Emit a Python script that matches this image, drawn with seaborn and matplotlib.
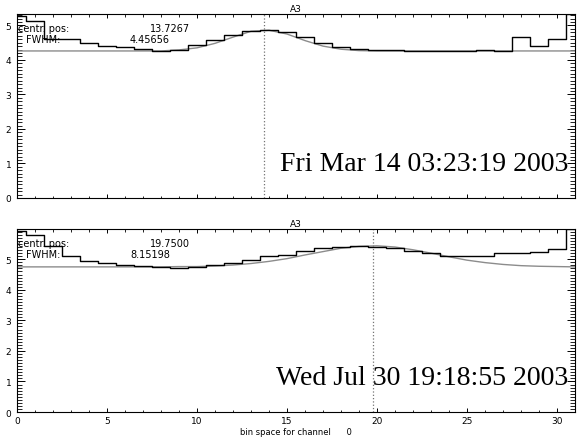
import matplotlib
matplotlib.use('Agg')
import matplotlib.pyplot as plt
import seaborn as sns
from matplotlib.ticker import MultipleLocator

# bin index (channel 0)
bins = list(range(32))

# top panel: counts per bin and the gaussian fit
hist_top = [5.28, 5.13, 4.61, 4.61, 4.50, 4.41, 4.37, 4.32, 4.26, 4.29,
            4.42, 4.57, 4.72, 4.84, 4.87, 4.82, 4.65, 4.48, 4.38, 4.31,
            4.30, 4.30, 4.27, 4.26, 4.26, 4.27, 4.29, 4.26, 4.67, 4.41,
            4.61, 5.33]
fit_top = [4.26, 4.26, 4.26, 4.26, 4.26, 4.26, 4.26, 4.26, 4.26, 4.29,
           4.35, 4.48, 4.66, 4.83, 4.86, 4.75, 4.56, 4.40, 4.31, 4.27,
           4.26, 4.26, 4.26, 4.26, 4.26, 4.26, 4.26, 4.26, 4.26, 4.26,
           4.26, 4.26]
center_top = "13.7267"
fwhm_top = "4.45656"
date_top = "Fri Mar 14 03:23:19 2003"

# bottom panel
hist_bot = [5.93, 5.78, 5.44, 5.12, 4.95, 4.89, 4.82, 4.79, 4.75, 4.72,
            4.75, 4.82, 4.89, 4.99, 5.09, 5.15, 5.28, 5.38, 5.41, 5.44,
            5.41, 5.38, 5.28, 5.19, 5.12, 5.09, 5.09, 5.19, 5.19, 5.24,
            5.34, 5.99]
fit_bot = [4.75, 4.75, 4.75, 4.75, 4.75, 4.75, 4.75, 4.75, 4.75, 4.76,
           4.76, 4.78, 4.81, 4.86, 4.93, 5.02, 5.14, 5.25, 5.36, 5.42,
           5.44, 5.40, 5.31, 5.20, 5.08, 4.97, 4.89, 4.83, 4.79, 4.77,
           4.76, 4.75]
center_bot = "19.7500"
fwhm_bot = "8.15198"
date_bot = "Wed Jul 30 19:18:55 2003"

sns.set_style('ticks')
plt.rcParams['font.family'] = ['DejaVu Sans']
plt.rcParams['xtick.direction'] = 'in'
plt.rcParams['ytick.direction'] = 'in'
plt.rcParams['text.color'] = 'black'
plt.rcParams['axes.labelcolor'] = 'black'
plt.rcParams['xtick.color'] = 'black'
plt.rcParams['ytick.color'] = 'black'


def draw_panel(ax, hist, fit, center, fwhm, date, show_x):
    sns.lineplot(x=bins, y=fit, color='0.55', linewidth=1.0, ax=ax)
    sns.lineplot(x=bins, y=hist, color='black', linewidth=1.0,
                 drawstyle='steps-mid', ax=ax)
    ax.axvline(float(center), color='0.45', linestyle=':', linewidth=0.9)
    ax.set_xlim(0, bins[-1])
    ax.set_ylim(0, max(hist))
    ax.xaxis.set_major_locator(MultipleLocator(5))
    ax.xaxis.set_minor_locator(MultipleLocator(1))
    ax.yaxis.set_major_locator(MultipleLocator(1))
    ax.yaxis.set_minor_locator(MultipleLocator(0.1))
    ax.tick_params(axis='x', which='major', length=3, width=0.7,
                   top=True, bottom=True, labelsize=6.5, pad=3,
                   labelbottom=show_x)
    ax.tick_params(axis='x', which='minor', length=1.8, width=0.6,
                   top=True, bottom=True)
    ax.tick_params(axis='y', which='major', length=6, width=0.7,
                   left=True, right=True, labelsize=6.5, pad=4)
    ax.tick_params(axis='y', which='minor', length=3.5, width=0.6,
                   left=True, right=True)
    for s in ax.spines.values():
        s.set_linewidth(0.8)
        s.set_color('black')
    ax.set_title('A3', fontsize=6.5, pad=2)
    ax.text(0.002, 0.925, 'centr. pos:', transform=ax.transAxes,
            fontsize=7, va='center', ha='left')
    ax.text(0.238, 0.925, center, transform=ax.transAxes,
            fontsize=7, va='center', ha='left')
    ax.text(0.016, 0.862, 'FWHM:', transform=ax.transAxes,
            fontsize=7, va='center', ha='left')
    ax.text(0.2025, 0.862, fwhm, transform=ax.transAxes,
            fontsize=7, va='center', ha='left')
    ax.text(0.988, 0.152, date, transform=ax.transAxes, ha='right',
            va='baseline', fontsize=20, family='Liberation Serif')
    ax.set_xlabel('')
    ax.set_ylabel('')


fig = plt.figure(figsize=(5.85, 4.39), dpi=100)
ax1 = fig.add_axes([0.0291, 0.5467, 0.9538, 0.4191])
ax2 = fig.add_axes([0.0291, 0.0592, 0.9538, 0.4169])

draw_panel(ax1, hist_top, fit_top, center_top, fwhm_top, date_top, False)
draw_panel(ax2, hist_bot, fit_bot, center_bot, fwhm_bot, date_bot, True)
ax2.set_xlabel('bin space for channel      0', fontsize=6, labelpad=1)

fig.savefig('out.png', dpi=100, facecolor='white')
